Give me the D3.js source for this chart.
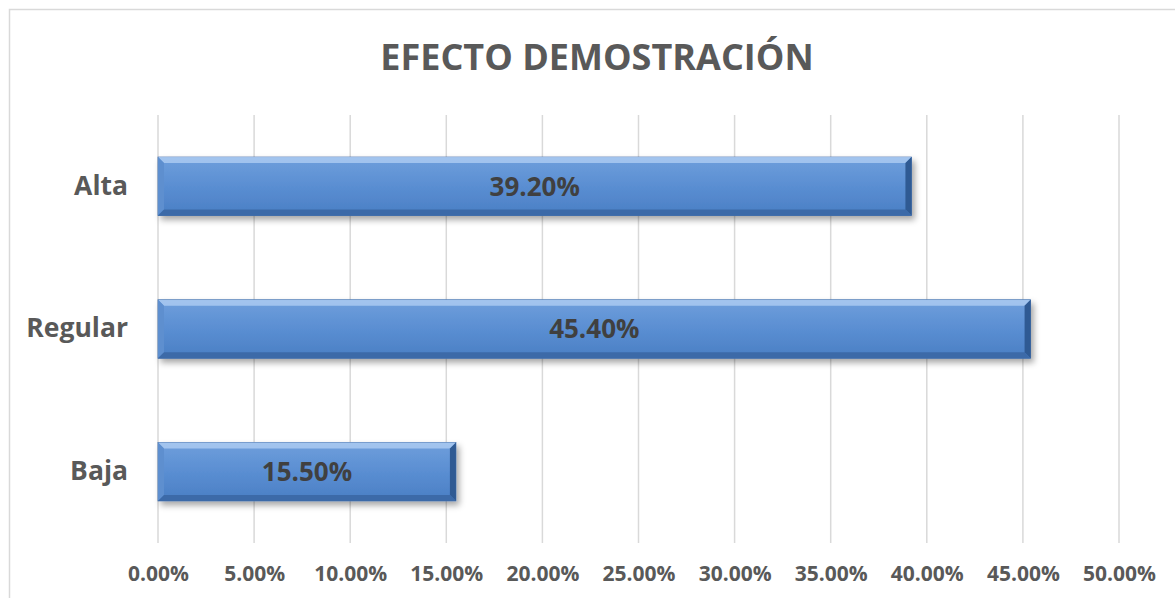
<!DOCTYPE html>
<html lang="es">
<head>
<meta charset="utf-8">
<title>Efecto demostración</title>
<script src="https://d3js.org/d3.v7.min.js"></script>
<style>
  body{ margin:0; background:#fff; font-family:"Open Sans", sans-serif; }
  svg{ display:block; }
</style>
</head>
<body>
<div id="chart"></div>
<script>
var categories = ["Alta", "Regular", "Baja"]
var values = [0.392, 0.454, 0.155]
var ticks = [0, 0.05, 0.10, 0.15, 0.20, 0.25, 0.30, 0.35, 0.40, 0.45, 0.50]
var title = "EFECTO DEMOSTRACIÓN"

var W = 1175, H = 598
var m = {top:115, right:56, bottom:55, left:158}
var font = "'Open Sans', sans-serif"

var svg = d3.select("#chart").append("svg").attr("width", W).attr("height", H)
var defs = svg.append("defs")

var grad = defs.append("linearGradient").attr("id","barFill").attr("x1",0).attr("y1",0).attr("x2",0).attr("y2",1)
grad.append("stop").attr("offset","0%").attr("stop-color","#6f9fdc")
grad.append("stop").attr("offset","50%").attr("stop-color","#5a8ed2")
grad.append("stop").attr("offset","100%").attr("stop-color","#4a7fc4")

var shadow = defs.append("filter").attr("id","shadow").attr("x","-5%").attr("y","-20%").attr("width","115%").attr("height","160%")
shadow.append("feDropShadow").attr("dx",3).attr("dy",4).attr("stdDeviation",3).attr("flood-color","#000").attr("flood-opacity",0.35)

// outer frame
svg.append("rect").attr("x",9.5).attr("y",9.5).attr("width",W).attr("height",H)
  .attr("fill","none").attr("stroke","#d9d9d9").attr("stroke-width",1.5)

svg.append("text").attr("x", 597).attr("y", 70).attr("text-anchor","middle").attr("font-family",font)
  .attr("font-size",36).attr("font-weight","bold").attr("fill","#595959").text(title)

var x = d3.scaleLinear().domain([0, 0.5]).range([m.left, W - m.right])
var y = d3.scaleBand().domain(categories).range([m.top, H - m.bottom]).paddingInner(0.59).paddingOuter(0.295)

// gridlines
svg.append("g").selectAll("line").data(ticks).join("line")
  .attr("x1", d => x(d)).attr("x2", d => x(d))
  .attr("y1", m.top).attr("y2", H - m.bottom)
  .attr("stroke","#d9d9d9").attr("stroke-width",1.5)

// x axis labels
var xAxis = d3.axisBottom(x).tickValues(ticks).tickFormat(d3.format(".2%")).tickSize(0).tickPadding(23)
svg.append("g").attr("transform","translate(0," + (H - m.bottom) + ")").call(xAxis)
  .call(g => g.select(".domain").remove())
  .selectAll("text").attr("font-family",font).attr("font-size",21)
  .attr("font-weight","bold").attr("fill","#595959")

// y axis labels
var yAxis = d3.axisLeft(y).tickSize(0).tickPadding(30)
svg.append("g").attr("transform","translate(" + m.left + ",0)").call(yAxis)
  .call(g => g.select(".domain").remove())
  .selectAll("text").attr("font-family",font).attr("font-size",26.5)
  .attr("font-weight","bold").attr("fill","#595959")

// bars with bevel
var bev = 6
var bars = svg.append("g").selectAll("g").data(values).join("g")
  .attr("transform", (d, i) => "translate(" + x(0) + "," + y(categories[i]) + ")")

bars.append("rect").attr("width", d => x(d) - x(0)).attr("height", y.bandwidth())
  .attr("fill","url(#barFill)").attr("filter","url(#shadow)")
  .attr("stroke","#3d6aa6").attr("stroke-width",0.8)

bars.each(function(d){
  var g = d3.select(this), w = x(d) - x(0), h = y.bandwidth()
  // top bevel
  g.append("polygon").attr("points", [[0,0],[w,0],[w-bev,bev],[bev,bev]].join(" "))
    .attr("fill","#a7c8f0").attr("opacity",0.9)
  // left bevel
  g.append("polygon").attr("points", [[0,0],[bev,bev],[bev,h-bev],[0,h]].join(" "))
    .attr("fill","#5e8fcf")
  // right bevel
  g.append("polygon").attr("points", [[w,0],[w,h],[w-bev,h-bev],[w-bev,bev]].join(" "))
    .attr("fill","#2f5a93")
  // bottom bevel
  g.append("polygon").attr("points", [[0,h],[bev,h-bev],[w-bev,h-bev],[w,h]].join(" "))
    .attr("fill","#3c6aa8")
})

bars.append("text").attr("x", d => (x(d) - x(0)) / 2).attr("y", y.bandwidth() / 2)
  .attr("dy","0.36em").attr("text-anchor","middle").attr("font-family",font)
  .attr("font-size",26).attr("font-weight","bold").attr("fill","#404040")
  .text(d => d3.format(".2%")(d))
</script>
</body>
</html>
